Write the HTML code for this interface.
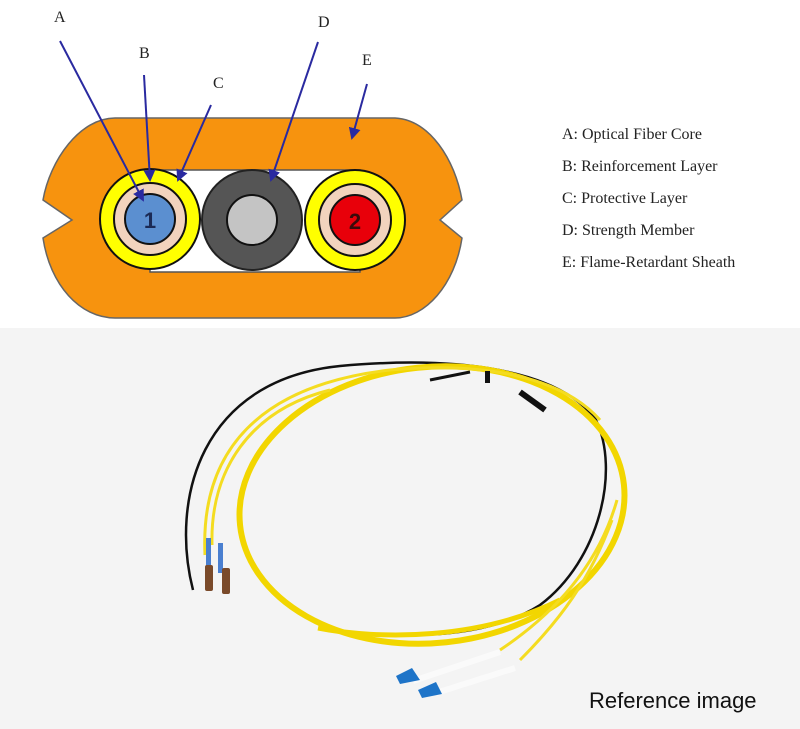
<!DOCTYPE html>
<html><head><meta charset="utf-8"><style>
html,body{margin:0;padding:0;background:#fff;width:800px;height:729px;overflow:hidden}
svg{display:block}
</style></head><body>
<svg width="800" height="729" viewBox="0 0 800 729" xmlns="http://www.w3.org/2000/svg">
<defs><marker id="ah" markerWidth="6" markerHeight="6" refX="5" refY="3" orient="auto"><path d="M0,0 L6,3 L0,6 Z" fill="#2a2aa0"/></marker></defs>
<rect x="0" y="0" width="800" height="328" fill="#fff"/>
<rect x="0" y="328" width="800" height="401" fill="#f4f4f4"/>
<path d="M115,118 L395,118 C430,120 455,160 462,200 L440,220 L462,238 C455,285 425,318 395,318 L115,318 C80,318 50,285 43,238 L72,220 L43,200 C50,160 80,118 115,118 Z" fill="#f7930e" stroke="#666" stroke-width="1.5"/>
<rect x="150" y="170" width="210" height="102" fill="#fff" stroke="#555" stroke-width="1.5"/>
<circle cx="150" cy="219" r="50" fill="#ffff00" stroke="#111" stroke-width="2"/>
<circle cx="150" cy="219" r="36" fill="#f2d3bd" stroke="#111" stroke-width="2"/>
<circle cx="150" cy="219" r="25" fill="#5b8fd0" stroke="#111" stroke-width="2"/>
<text x="150" y="228" font-family="Liberation Sans,sans-serif" font-weight="bold" font-size="22" text-anchor="middle" fill="#1b2a55">1</text>
<circle cx="252" cy="220" r="50" fill="#555" stroke="#222" stroke-width="2"/>
<circle cx="252" cy="220" r="25" fill="#c4c4c4" stroke="#111" stroke-width="2"/>
<circle cx="355" cy="220" r="50" fill="#ffff00" stroke="#111" stroke-width="2"/>
<circle cx="355" cy="220" r="36" fill="#f2d3bd" stroke="#111" stroke-width="2"/>
<circle cx="355" cy="220" r="25" fill="#e8000a" stroke="#111" stroke-width="2"/>
<text x="355" y="229" font-family="Liberation Sans,sans-serif" font-weight="bold" font-size="22" text-anchor="middle" fill="#3a0a0a">2</text>
<g stroke="#2a2aa0" stroke-width="2" fill="none" marker-end="url(#ah)">
<line x1="60" y1="41" x2="143" y2="200"/>
<line x1="144" y1="75" x2="150" y2="180"/>
<line x1="211" y1="105" x2="178" y2="180"/>
<line x1="318" y1="42" x2="271" y2="180"/>
<line x1="367" y1="84" x2="352" y2="138"/>
</g>
<g font-family="Liberation Serif,serif" font-size="16" fill="#222">
<text x="54" y="22">A</text><text x="139" y="58">B</text><text x="213" y="88">C</text><text x="318" y="27">D</text><text x="362" y="65">E</text>
<text x="562" y="139">A: Optical Fiber Core</text>
<text x="562" y="171">B: Reinforcement Layer</text>
<text x="562" y="203">C: Protective Layer</text>
<text x="562" y="235">D: Strength Member</text>
<text x="562" y="267">E: Flame-Retardant Sheath</text>
</g>
<path d="M193,590 C170,500 200,380 340,366 C460,355 560,370 596,420 C620,470 600,560 540,605 C500,630 450,635 410,635" fill="none" stroke="#111" stroke-width="2.5"/>
<ellipse cx="432" cy="505" rx="193" ry="138" transform="rotate(-6 432 505)" fill="none" stroke="#f2d600" stroke-width="6"/>
<path d="M318,628 C380,640 480,640 560,600" fill="none" stroke="#f2d600" stroke-width="5"/>
<path d="M205,555 C200,450 260,385 390,370 C480,362 560,375 600,420" fill="none" stroke="#f4dc20" stroke-width="3"/>
<path d="M212,545 C210,470 250,410 330,390" fill="none" stroke="#f4dc20" stroke-width="3"/>
<path d="M617,500 C600,560 560,610 500,650 M612,520 C590,580 560,620 520,660" fill="none" stroke="#f4dc20" stroke-width="3"/>
<rect x="485" y="371" width="5" height="12" fill="#111"/>
<path d="M520,392 L545,410" stroke="#111" stroke-width="6"/>
<path d="M430,380 L470,372" stroke="#111" stroke-width="3"/>
<rect x="206" y="538" width="5" height="30" fill="#4a7fd0"/>
<rect x="218" y="543" width="5" height="30" fill="#4a7fd0"/>
<rect x="205" y="565" width="8" height="26" rx="2" fill="#7a4a2a"/>
<rect x="222" y="568" width="8" height="26" rx="2" fill="#7a4a2a"/>
<path d="M413,681 L500,652 M436,693 L515,668" stroke="#fafafa" stroke-width="6"/>
<path d="M396,676 L412,668 L420,680 L400,684 Z M418,690 L436,682 L442,694 L422,698 Z" fill="#1e74c8"/>
<text x="589" y="708" font-family="Liberation Sans,sans-serif" font-size="22" fill="#111">Reference image</text>
</svg>
</body></html>
